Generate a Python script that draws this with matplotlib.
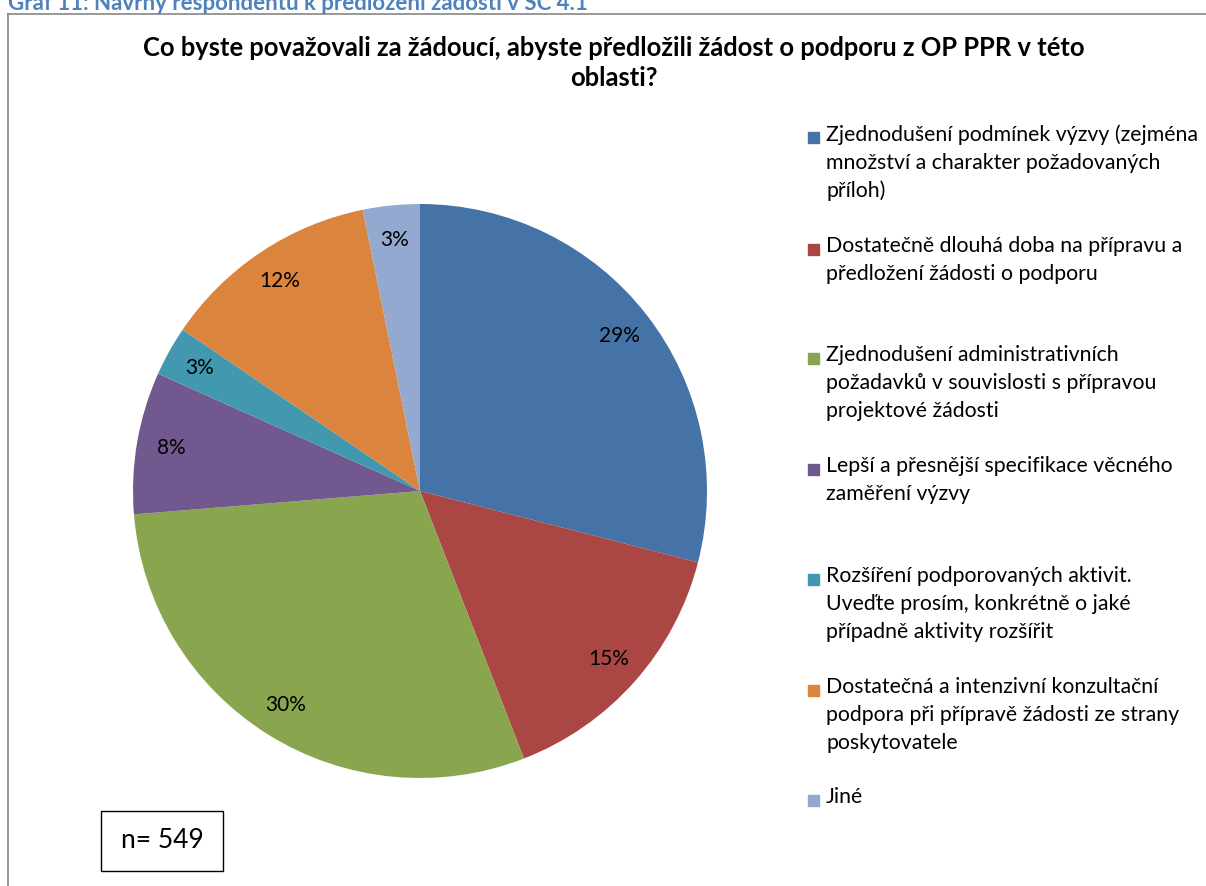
import matplotlib
matplotlib.use("Agg")
import matplotlib.pyplot as plt
from matplotlib.patches import Rectangle

plt.rcParams['font.family'] = ['Lato', 'DejaVu Sans']

labels = [
    "Zjednodušení podmínek výzvy (zejména\nmnožství a charakter požadovaných\npříloh)",
    "Dostatečně dlouhá doba na přípravu a\npředložení žádosti o podporu",
    "Zjednodušení administrativních\npožadavků v souvislosti s přípravou\nprojektové žádosti",
    "Lepší a přesnější specifikace věcného\nzaměření výzvy",
    "Rozšíření podporovaných aktivit.\nUveďte prosím, konkrétně o jaké\npřípadně aktivity rozšířit",
    "Dostatečná a intenzivní konzultační\npodpora při přípravě žádosti ze strany\nposkytovatele",
    "Jiné",
]
values = [29.0, 15.1, 29.6, 8.0, 2.8, 12.3, 3.2]
colors = ["#4572A7", "#AA4643", "#89A54E", "#71588F", "#4198AF", "#DB843D", "#93A9CF"]

W, H = 1206, 886
fig = plt.figure(figsize=(W / 100, H / 100), dpi=100)

# caption (cut at top edge) and chart frame
fig.text(8 / W, 1 - 3 / H, "Graf 11: Návrhy respondentů k předložení žádosti v SC 4.1",
         color="#4F81BD", fontsize=16, fontweight="bold", ha="left", va="center")
fig.add_artist(plt.Line2D([8 / W, 8 / W], [0, 1 - 14 / H], transform=fig.transFigure,
                          color="#868686", lw=1.2))
fig.add_artist(plt.Line2D([8 / W, 1], [1 - 14 / H, 1 - 14 / H], transform=fig.transFigure,
                          color="#868686", lw=1.2))

fig.text(614 / W, 1 - 63 / H,
         "Co byste považovali za žádoucí, abyste předložili žádost o podporu z OP PPR v této\noblasti?",
         ha="center", va="center", fontsize=18.4, fontweight="bold", linespacing=1.3)

cx, cy, r = 420, 491, 287
ax = fig.add_axes([(cx - r) / W, (H - cy - r) / H, 2 * r / W, 2 * r / H])
ax.pie(values, colors=colors, startangle=90, counterclock=False,
       autopct=lambda p: "%d%%" % round(p), pctdistance=0.88,
       textprops={"fontsize": 15, "color": "#000000"}, radius=1)
ax.set_xlim(-1, 1)
ax.set_ylim(-1, 1)
ax.set_aspect("equal")
ax.axis("off")

# legend entries, evenly spaced like the original
tops = [137, 249, 358, 469, 579, 690, 800]
for lab, col, t in zip(labels, colors, tops):
    fig.patches.append(Rectangle((808 / W, 1 - (t + 6) / H), 11 / W, 11 / H,
                                 transform=fig.transFigure, color=col))
    fig.text(826 / W, 1 - (t - 13) / H, lab, ha="left", va="top",
             fontsize=15.3, linespacing=1.5)

# n box
fig.patches.append(Rectangle((101 / W, 1 - 871 / H), 122 / W, 60 / H, transform=fig.transFigure,
                             facecolor="white", edgecolor="#000000", lw=1))
fig.text(162 / W, 1 - 841 / H, "n= 549", ha="center", va="center", fontsize=19)

fig.savefig("out.png", dpi=100)
